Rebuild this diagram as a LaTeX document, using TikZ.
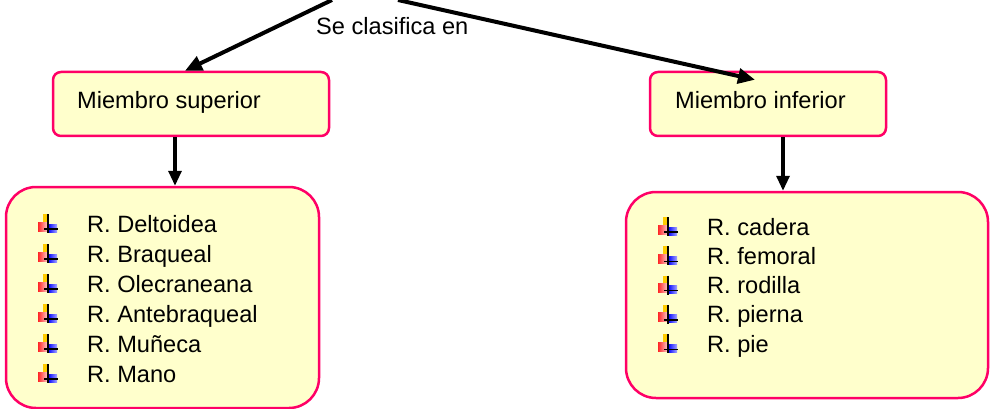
\documentclass[tikz,border=0pt]{standalone}
\usepackage{fontspec}
\setmainfont{Liberation Sans}
\usetikzlibrary{arrows.meta,calc}
\definecolor{boxfill}{HTML}{FFFFCC}
\definecolor{boxline}{HTML}{FF0066}
\definecolor{bulyellow}{HTML}{FFCC00}
\tikzset{
  catbox/.style={draw=boxline, fill=boxfill, line width=2.5pt, rounded corners=8pt, inner sep=0pt},
  listbox/.style={draw=boxline, fill=boxfill, line width=2.5pt, rounded corners=30pt, inner sep=0pt},
  txt/.style={anchor=base west, inner sep=0pt, font=\fontsize{23.6}{28}\selectfont},
  bigarrow/.style={line width=4pt, -{Triangle[length=17pt,width=15pt]}},
  downarrow/.style={line width=3.2pt, -{Triangle[length=15pt,width=13pt]}},
  bulletmark/.pic={
    \fill[bulyellow] (-5,-15) rectangle (0,-4);
    \shade[left color=red!85, right color=red!25] (-10,-7) rectangle (-1,2);
    \shade[left color=blue, right color=blue!35] (0,-5) rectangle (9,3);
    \draw[line width=1.3pt] (0,-15) -- (0,4);
    \draw[line width=1.3pt] (-4,0) -- (10,0);
  }
}
\begin{document}
\begin{tikzpicture}[x=1pt,y=-1pt]
\useasboundingbox (0,0) rectangle (993,409);
% category boxes
\node[catbox, minimum width=276pt, minimum height=64pt] (boxSup) at (191,104) {};
\node[txt] (txtSup) at (77,109) {Miembro superior};
\node[catbox, minimum width=236pt, minimum height=64pt] (boxInf) at (768,104) {};
\node[txt] (txtInf) at (675,109) {Miembro inferior};
% list boxes
\node[listbox, minimum width=313pt, minimum height=221pt] (listSup) at (162.5,297.5) {};
\node[listbox, minimum width=362pt, minimum height=206pt] (listInf) at (807,295) {};
% top connectors
\coordinate (srcL) at (332,0);
\coordinate (srcR) at (398,0);
\draw[bigarrow] (srcL) -- ([xshift=-6pt]boxSup.north);
\draw[bigarrow] (srcR) -- ([xshift=-13pt,yshift=-9pt]boxInf.north);
\node[txt] (lbl) at (316,35) {Se clasifica en};
% vertical connectors
\draw[downarrow] (boxSup.south -| 175,0) -- (listSup.north -| 175,0);
\draw[downarrow] (boxInf.south -| 783,0) -- (listInf.north -| 783,0);
% left list
\foreach \t [count=\i from 0] in {R. Deltoidea, R. Braqueal, R. Olecraneana, R. Antebraqueal, R. Muñeca, R. Mano}{
  \pic at (48,{229+30*\i}) {bulletmark};
  \node[txt] (ls\i) at (87,{232+30*\i}) {\t};
}
% right list
\foreach \t [count=\i from 0] in {R. cadera, R. femoral, R. rodilla, R. pierna, R. pie}{
  \pic at (668,{232+29.3*\i}) {bulletmark};
  \node[txt] (rs\i) at (707,{235+29.3*\i}) {\t};
}
\end{tikzpicture}
\end{document}
